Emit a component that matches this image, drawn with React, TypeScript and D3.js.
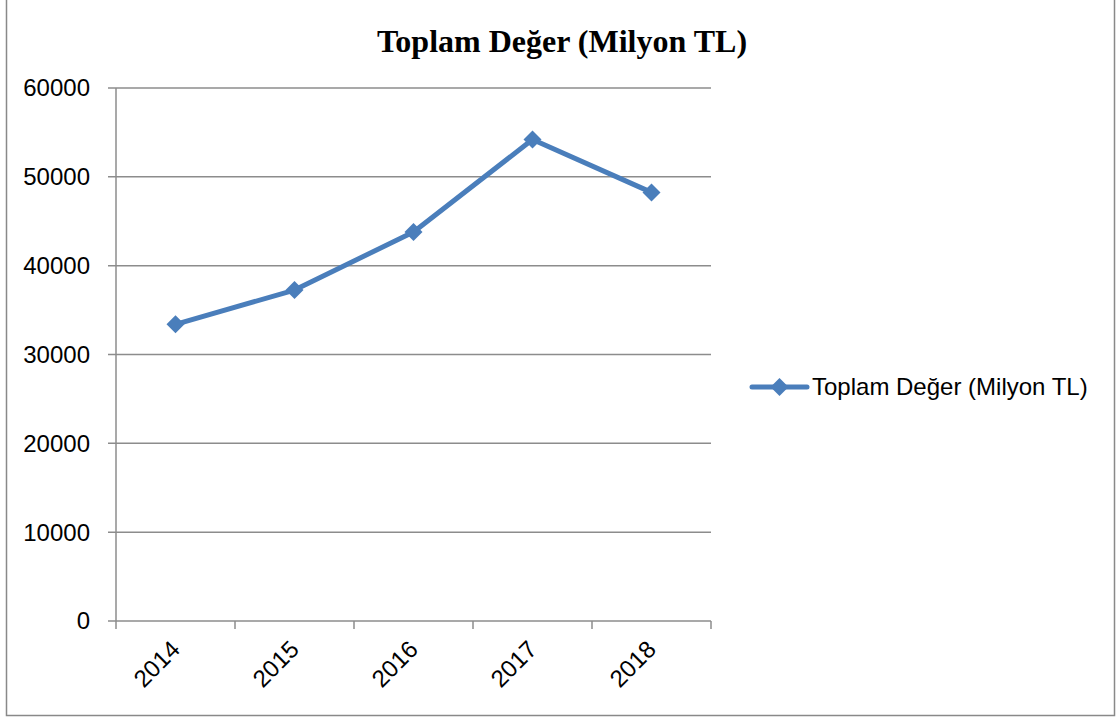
import React from 'react'
import * as d3 from 'd3'

const years = ['2014', '2015', '2016', '2017', '2018']
const values = [33400, 37250, 43800, 54200, 48250]
const yTicks = [0, 10000, 20000, 30000, 40000, 50000, 60000]
const seriesName = 'Toplam Değer (Milyon TL)'
const title = 'Toplam Değer (Milyon TL)'

const W = 1118
const H = 719
const plot = { left: 116, right: 711, top: 88, bottom: 621 }
const blue = '#4a7ebb'
const grid = '#8c8c8c'
const sans = '"Liberation Sans", Arial, sans-serif'

const diamond = (cx: number, cy: number, r: number) =>
  `M${cx},${cy - r}L${cx + r},${cy}L${cx},${cy + r}L${cx - r},${cy}Z`

export default function App() {
  const x = d3.scaleBand<string>().domain(years).range([plot.left, plot.right])
  const y = d3.scaleLinear().domain([0, 60000]).range([plot.bottom, plot.top])
  const cx = (d: string) => (x(d) ?? 0) + x.bandwidth() / 2

  const line = d3.line<number>()
    .x((_, i) => cx(years[i]))
    .y(d => y(d))

  const bounds = [...years.map(d => x(d) ?? 0), plot.right]

  return (
    <svg width={W} height={H} style={{ position: 'absolute', left: 0, top: 0 }}>
      <rect x={0} y={0} width={W} height={H} fill="#fff" />
      {/* chart frame */}
      <rect x={6.5} y={-2} width={1108} height={717.5} fill="none" stroke="#898989" strokeWidth={1.5} />

      <text x={562} y={52} textAnchor="middle" fontFamily='"Liberation Serif", "Times New Roman", serif'
        fontWeight="bold" fontSize={32} fill="#000">{title}</text>

      {/* gridlines + y ticks */}
      {yTicks.map(t => (
        <g key={t}>
          <line x1={plot.left - 8} x2={plot.right} y1={y(t)} y2={y(t)} stroke={grid} strokeWidth={1.5} />
          <text x={90} y={y(t)} dy="0.35em" textAnchor="end" fontFamily={sans} fontSize={24} fill="#000">{t}</text>
        </g>
      ))}
      {/* y axis */}
      <line x1={plot.left} x2={plot.left} y1={plot.top} y2={plot.bottom} stroke={grid} strokeWidth={1.5} />
      {/* x tick marks */}
      {bounds.map((b, i) => (
        <line key={i} x1={b} x2={b} y1={plot.bottom} y2={plot.bottom + 8} stroke={grid} strokeWidth={1.5} />
      ))}
      {/* x labels */}
      {years.map(d => (
        <text key={d} transform={`translate(${cx(d) - 6},${plot.bottom + 18}) rotate(-45)`}
          textAnchor="end" dy="0.7em" fontFamily={sans} fontSize={24} fill="#000">{d}</text>
      ))}

      {/* series */}
      <path d={line(values) ?? ''} fill="none" stroke={blue} strokeWidth={5} strokeLinejoin="round" />
      {values.map((v, i) => (
        <path key={i} d={diamond(cx(years[i]), y(v), 9)} fill={blue} />
      ))}

      {/* legend */}
      <line x1={752} x2={807} y1={387} y2={387} stroke={blue} strokeWidth={5} strokeLinecap="round" />
      <path d={diamond(779.5, 387, 9)} fill={blue} />
      <text x={812} y={387} dy="0.35em" fontFamily={sans} fontSize={24} fill="#000">{seriesName}</text>
    </svg>
  )
}
